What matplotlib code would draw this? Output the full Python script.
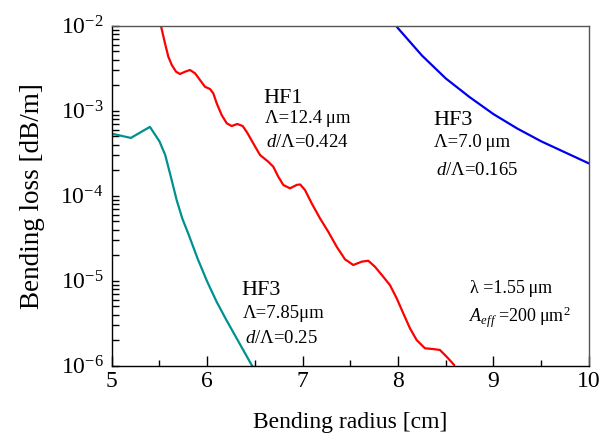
import numpy as np
import matplotlib
matplotlib.use("Agg")
import matplotlib.pyplot as plt
from matplotlib.ticker import MultipleLocator, LogLocator, NullFormatter

plt.rcParams['font.family'] = ['Liberation Serif', 'DejaVu Serif']
plt.rcParams['mathtext.fontset'] = 'custom'
plt.rcParams['mathtext.rm'] = 'Liberation Serif'
plt.rcParams['mathtext.it'] = 'Liberation Serif:italic'

# HF1 (red): bending radius [cm] and log10(bending loss [dB/m])
hf1_r = [5.515, 5.524, 5.558, 5.593, 5.629, 5.674, 5.715, 5.768, 5.820, 5.873, 5.925,
         5.977, 6.030, 6.064, 6.100, 6.152, 6.205, 6.257, 6.316, 6.372, 6.420, 6.483,
         6.554, 6.640, 6.693, 6.745, 6.798, 6.868, 6.940, 6.975, 7.025, 7.095, 7.182,
         7.269, 7.357, 7.444, 7.531, 7.619, 7.688, 7.758, 7.845, 7.915, 7.986, 8.055,
         8.125, 8.195, 8.282, 8.369, 8.439, 8.509, 8.589]
hf1_log = [-2.000, -2.042, -2.207, -2.365, -2.462, -2.541, -2.568, -2.541, -2.521, -2.560, -2.639,
           -2.718, -2.745, -2.795, -2.913, -3.051, -3.148, -3.180, -3.156, -3.180, -3.259, -3.384,
           -3.521, -3.600, -3.659, -3.776, -3.874, -3.913, -3.872, -3.868, -3.933, -4.089, -4.266,
           -4.424, -4.600, -4.748, -4.815, -4.776, -4.765, -4.835, -4.953, -5.051, -5.207, -5.384,
           -5.560, -5.698, -5.795, -5.804, -5.815, -5.894, -5.992]

# HF3 (teal), Lambda = 7.85 um, d/Lambda = 0.25
hf3a_r = [5.0, 5.2, 5.4, 5.5, 5.56, 5.62, 5.68, 5.74, 5.8, 5.9, 6.0, 6.1, 6.2, 6.3, 6.4, 6.5]
hf3a_log = [-3.27, -3.32, -3.19, -3.36, -3.52, -3.78, -4.05, -4.27, -4.44, -4.74, -5.01,
            -5.25, -5.46, -5.66, -5.86, -6.06]

# HF3 (blue), Lambda = 7.0 um, d/Lambda = 0.165
hf3b_r = [7.98, 8.0, 8.25, 8.5, 8.75, 9.0, 9.25, 9.5, 9.75, 10.0]
hf3b_log = [-2.00, -2.03, -2.35, -2.62, -2.84, -3.04, -3.21, -3.36, -3.49, -3.62]

fig = plt.figure(figsize=(6.04, 4.36), dpi=100)
ax = fig.add_axes([0.185, 0.1612, 0.790, 0.7798])

kw = dict(lw=1.6, solid_joinstyle='round', solid_capstyle='round')
ax.plot(hf1_r, 10.0 ** np.array(hf1_log), color='#ff0000', **kw)
ax.plot(hf3a_r, 10.0 ** np.array(hf3a_log), color='#009090', **kw)
ax.plot(hf3b_r, 10.0 ** np.array(hf3b_log), color='#0000ee', **kw)

ax.set_yscale('log')
ax.set_xlim(5, 10)
ax.set_ylim(1e-6, 1e-2)
ax.xaxis.set_major_locator(MultipleLocator(1))
ax.xaxis.set_minor_locator(MultipleLocator(0.5))
ax.yaxis.set_major_locator(LogLocator(base=10, numticks=10))
ax.yaxis.set_minor_locator(LogLocator(base=10, subs=np.arange(2, 10), numticks=20))
ax.yaxis.set_minor_formatter(NullFormatter())

ax.tick_params(axis='both', which='both', direction='in', top=False, right=False,
               labelsize=17, colors='black', width=1)
ax.tick_params(axis='x', which='major', length=7, pad=4)
ax.tick_params(axis='x', which='minor', length=4.5)
ax.tick_params(axis='y', which='major', length=5, pad=6)
ax.tick_params(axis='y', which='minor', length=5)

for s in ['left', 'bottom']:
    ax.spines[s].set_color('black')
    ax.spines[s].set_linewidth(1.0)
for s in ['top', 'right']:
    ax.spines[s].set_color('#555555')
    ax.spines[s].set_linewidth(1.0)

ax.set_xlabel('Bending radius [cm]', fontsize=17, labelpad=14)
ax.set_ylabel('Bending loss [dB/m]', fontsize=19.5, labelpad=11)

def px(x, y):
    return (x / 604.0, 1 - y / 436.0)

big = 16
small = 13.5
fig.text(*px(263, 103), 'HF1', fontsize=big, va='baseline')
fig.text(*px(265, 123), '\u039b=12.4\u2009\u03bcm', fontsize=small, va='baseline')
fig.text(*px(266, 147), '$d$/\u039b=0.424', fontsize=small, va='baseline')

fig.text(*px(433, 125), 'HF3', fontsize=big, va='baseline')
fig.text(*px(434, 147), '\u039b=7.0\u2009\u03bcm', fontsize=small, va='baseline')
fig.text(*px(436, 175), '$d$/\u039b=0.165', fontsize=small, va='baseline')

fig.text(*px(241, 295), 'HF3', fontsize=big, va='baseline')
fig.text(*px(243, 318), '\u039b=7.85\u03bcm', fontsize=small, va='baseline')
fig.text(*px(245, 343), '$d$/\u039b=0.25', fontsize=small, va='baseline')

fig.text(*px(470, 293), '\u03bb =1.55\u2009\u03bcm', fontsize=13, va='baseline')
fig.text(*px(469, 322), '$A_{eff}$ =200\u2009\u03bcm$^2$', fontsize=13, va='baseline')

fig.savefig('out.png', dpi=100)
